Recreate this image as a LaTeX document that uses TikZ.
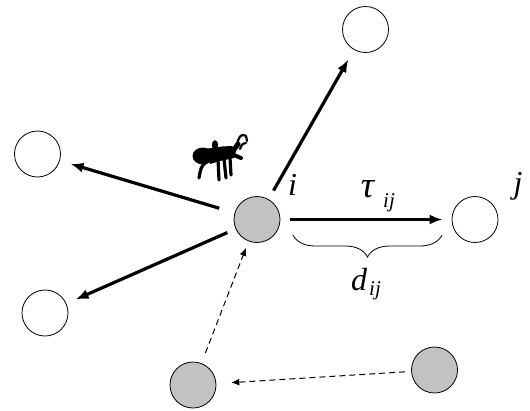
\documentclass[tikz,border=0pt]{standalone}
\usepackage{fontspec}
\setmainfont{Liberation Serif}
\usetikzlibrary{arrows.meta,decorations.pathreplacing,calc}
\begin{document}
\begin{tikzpicture}[x=1pt,y=-1pt,
  site/.style={circle,draw=black,line width=0.8pt,minimum size=46pt,inner sep=0pt},
  visited/.style={site,fill=black!24},
  move/.style={line width=3.2pt,-{Latex[length=13pt,width=10pt]}},
  trail/.style={line width=1pt,dash pattern=on 6pt off 4pt,-{Latex[length=8pt,width=7pt]}},
  lbl/.style={font=\fontsize{32}{32}\selectfont\itshape,inner sep=0pt,anchor=base},
  sublbl/.style={font=\fontsize{21}{21}\selectfont\itshape,inner sep=0pt,anchor=base},
  antleg/.style={line width=3.2pt,line cap=round}
]
\useasboundingbox (0,0) rectangle (530,410);

% cities
\node[visited] (i)  at (257,219.5) {};
\node[site]    (t)  at (365.5,29.5) {};
\node[site]    (ul) at (37.5,154) {};
\node[site]    (ll) at (45,313) {};
\node[site]    (j)  at (475,219.5) {};
\node[visited] (b1) at (193,385) {};
\node[visited] (b2) at (434.5,370) {};

% possible moves of the ant from city i
\draw[move,shorten <=10pt,shorten >=11pt] (i) -- (t);
\draw[move,shorten <=16pt,shorten >=11pt] (i) -- (ul);
\draw[move,shorten <=9pt,shorten >=10pt] (i) -- (ll);
\draw[move,shorten <=10pt,shorten >=9pt] (i) -- (j);

% path already travelled
\draw[trail,shorten <=6pt,shorten >=15pt] (b2) -- (b1);
\draw[trail,shorten <=11pt,shorten >=7pt] (b1) -- (i);

% distance brace
\coordinate (bl) at (293,235);
\coordinate (br) at (442,235);
\draw[line width=0.8pt,decorate,decoration={brace,amplitude=22pt}] (br) -- (bl);

% labels
\node[lbl] (li) at (292.5,195) {i};
\node[lbl,font=\fontsize{37}{37}\selectfont\itshape] (tau) at (367.5,197) {τ};
\node[sublbl] (tausub) at (389,207) {ij};
\node[lbl] (lj) at (518,193) {j};
\node[lbl] (ld) at (359,290) {d};
\node[sublbl] (dsub) at (375,295) {ij};

% the ant
\fill (203,156) ellipse [x radius=10.5pt, y radius=8.5pt];
\fill (215,145) ellipse [x radius=3.2pt, y radius=4.8pt];
\fill (208,148.5) -- (222,146.5) -- (232,146) -- (236,151) -- (234,158)
      -- (222,160.5) -- (210,164) -- cycle;
\draw[line width=5pt,line cap=round] (233,151) -- (238,144);
\draw[line width=4pt,line cap=round] (234,155) -- (241,158);
\draw[line width=2.2pt,line cap=round] (237,145) .. controls (238,139) and (240,135) .. (243,135)
      .. controls (246,135) .. (247,141);
\draw[line width=2.2pt,line cap=round] (240,149) .. controls (242,144) .. (246,143);
\draw[antleg] (206,162) .. controls (201,167) .. (199,178);
\draw[antleg] (218,159) -- (219,180);
\draw[antleg] (224,159) -- (226,178);
\draw[antleg] (230,158) -- (231,175);
\end{tikzpicture}
\end{document}
